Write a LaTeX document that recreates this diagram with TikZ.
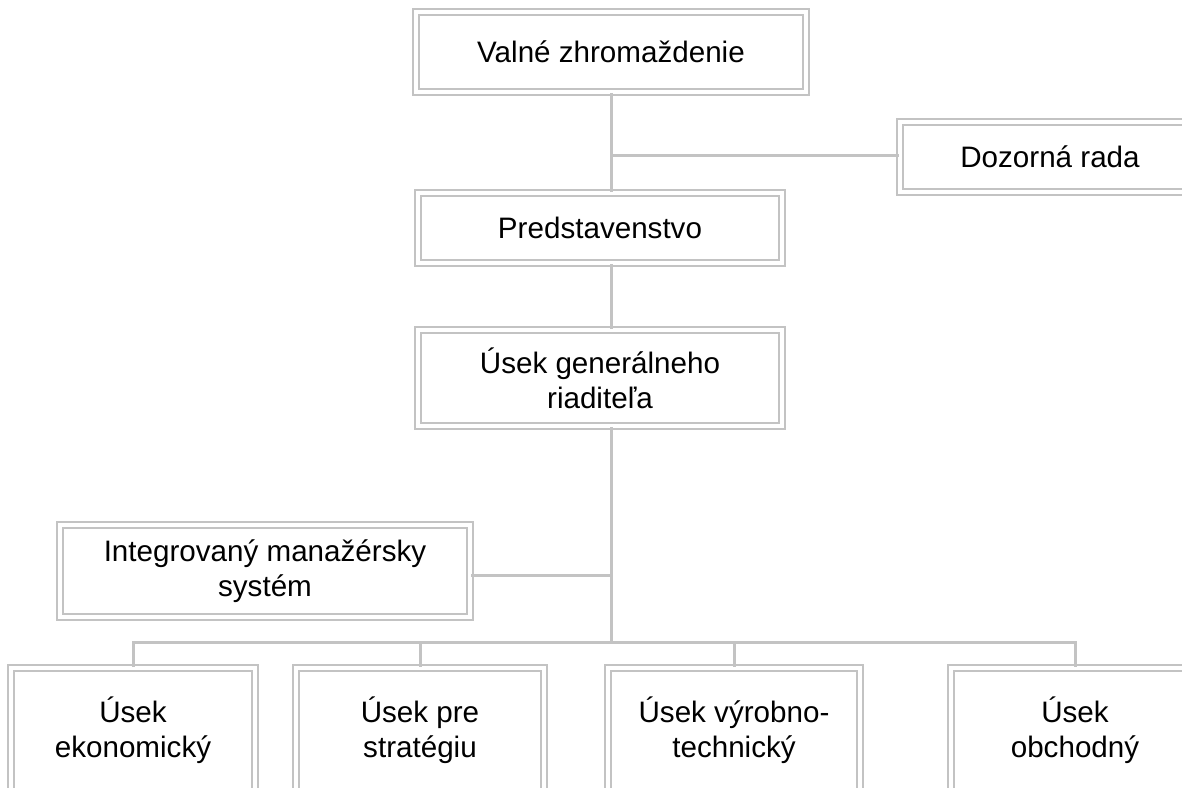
\documentclass[tikz,border=0pt]{standalone}
\usepackage{fontspec}
\setmainfont{Liberation Sans}
\usepackage{xcolor}
\usetikzlibrary{positioning}
\definecolor{framegray}{HTML}{C3C3C3}
\tikzset{
  unitbox/.style={draw=framegray,line width=1pt,double=white,double distance=2pt,align=center,inner sep=2pt,font=\fontsize{14.8}{17.5}\selectfont},
  link/.style={framegray,line width=1.5pt}
}

\begin{document}
\begin{tikzpicture}[x=0.5pt,y=-0.5pt]
  \useasboundingbox (0,0) rectangle (1182,787);
  \clip (0,0) rectangle (1182,787);
  % top of the hierarchy
  \node[unitbox,minimum width=195pt,minimum height=40pt] (general) at (611,52) {Valné zhromaždenie};
  \node[unitbox,minimum width=150pt,minimum height=35pt] (supervise) at (1050,157) {Dozorná rada};
  \node[unitbox,minimum width=182pt,minimum height=35pt] (board) at (600,228) {Predstavenstvo};
  \node[unitbox,minimum width=182pt,minimum height=48pt] (director) at (600,378) {Úsek generálneho\\riaditeľa};
  \node[unitbox,minimum width=205pt,minimum height=46pt] (ims) at (265,571) {Integrovaný manažérsky\\systém};
  % divisions
  \node[unitbox,minimum width=122pt,minimum height=62pt] (econ) at (133,730) {Úsek\\ekonomický};
  \node[unitbox,minimum width=124pt,minimum height=62pt] (strat) at (420,730) {Úsek pre\\stratégiu};
  \node[unitbox,minimum width=126pt,minimum height=62pt] (tech) at (734,730) {Úsek výrobno-\\technický};
  \node[unitbox,minimum width=124pt,minimum height=62pt] (trade) at (1075,730) {Úsek\\obchodný};
  % connectors
  \coordinate (j1) at (611,155);
  \coordinate (j2) at (611,575);
  \coordinate (bus) at (611,642);
  \draw[link] (general.south -| j1) -- (board.north -| j1);
  \draw[link] (j1) -- (supervise.west |- j1);
  \draw[link] (board.south -| j1) -- (director.north -| j1);
  \draw[link] (director.south -| j1) -- (bus);
  \draw[link] (ims.east |- j2) -- (j2);
  \draw[link] (econ.north) -- (econ.north |- bus) -- (trade.north |- bus) -- (trade.north);
  \draw[link] (strat.north |- bus) -- (strat.north);
  \draw[link] (tech.north |- bus) -- (tech.north);
\end{tikzpicture}
\end{document}
